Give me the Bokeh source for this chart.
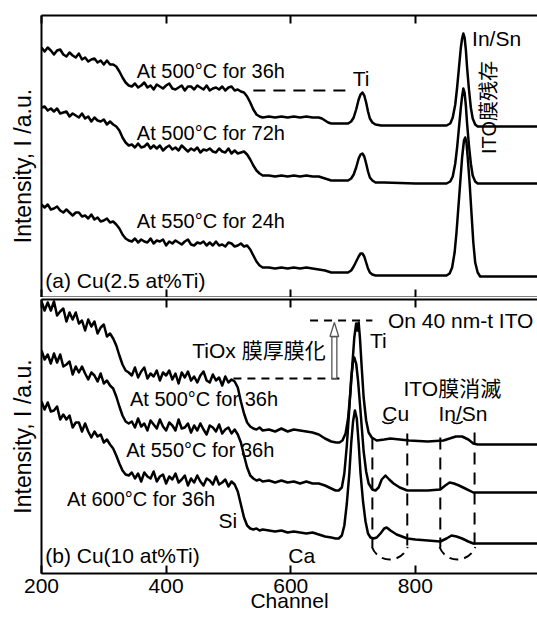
import math
from bokeh.plotting import figure
from bokeh.models import Range1d, LinearAxis, FixedTicker, Label
from bokeh.layouts import column
from bokeh.embed import file_html
from bokeh.resources import INLINE

# ---------------- data ----------------
x_ticks = [200, 400, 600, 800]
channel_grid = list(range(200, 556, 5))   # noisy low-channel part, 5-channel steps

# (a) Cu(2.5 at%Ti)
int_a1_low = [250, 246, 250, 247, 243, 247, 248, 243, 241, 245,
              242, 240, 244, 238, 240, 236, 238, 239, 235, 237,
              233, 237, 233, 233, 231, 226, 220, 215, 212, 211,
              214, 210, 212, 215, 210, 212, 208, 213, 211, 209,
              212, 214, 209, 208, 210, 212, 207, 211, 211, 208,
              212, 210, 208, 212, 207, 209, 210, 208, 211, 207,
              210, 211, 207, 208, 206, 205, 201, 195, 188, 183,
              181, 180]
ch_a1_high = [565, 575, 585, 595, 605, 615, 625, 635, 645, 650, 655, 660, 665, 675, 685, 692, 697,
              701, 705, 709, 712, 715, 718, 721, 724, 727, 731, 736, 745, 780, 820, 850, 856, 860,
              864, 867, 870, 873, 875, 877, 879, 881, 883, 886, 889, 892, 896, 900, 996]
int_a1_high = [181, 180, 181, 180, 181, 180, 181, 180, 180, 179, 177, 175, 174, 174, 174, 174, 176,
               180, 188, 198, 203, 205, 202, 195, 186, 179, 175, 173, 172, 172, 172, 172, 174, 180,
               193, 210, 230, 250, 259, 264, 260, 248, 230, 208, 190, 179, 173, 171, 171]

int_a2_low = [190, 191, 187, 189, 186, 189, 184, 185, 186, 181,
              184, 182, 180, 184, 179, 181, 176, 180, 177, 176,
              178, 173, 176, 173, 171, 167, 160, 155, 152, 153,
              150, 154, 150, 151, 154, 149, 152, 149, 152, 147,
              150, 152, 148, 150, 147, 152, 149, 146, 149, 147,
              150, 145, 148, 147, 149, 146, 145, 149, 146, 145,
              149, 144, 147, 144, 145, 146, 143, 138, 132, 127,
              124, 122]
ch_a2_high = [565, 575, 585, 595, 605, 615, 625, 635, 645, 650, 655, 660, 665, 675, 685, 692, 697,
              701, 705, 709, 712, 715, 718, 721, 724, 727, 731, 736, 750, 800, 850, 856, 860, 864,
              867, 870, 873, 875, 877, 879, 881, 883, 886, 889, 892, 896, 900, 996]
int_a2_high = [122, 121, 122, 121, 122, 121, 122, 121, 121, 120, 119, 118, 117, 117, 117, 117, 119,
               123, 130, 139, 143, 144, 141, 134, 126, 120, 117, 115, 115, 114, 114, 116, 121, 134,
               150, 170, 190, 201, 209, 205, 192, 174, 152, 134, 122, 116, 114, 114]

int_a3_low = [93, 90, 93, 88, 89, 91, 87, 85, 88, 85,
              82, 85, 85, 81, 82, 79, 83, 78, 80, 76,
              77, 79, 75, 76, 73, 69, 63, 59, 57, 56,
              59, 55, 58, 56, 55, 59, 54, 57, 56, 58,
              52, 56, 54, 57, 55, 53, 56, 58, 53, 52,
              55, 54, 56, 52, 55, 52, 56, 52, 53, 51,
              55, 54, 51, 52, 54, 51, 52, 48, 42, 36,
              32, 30]
ch_a3_high = [565, 575, 585, 595, 605, 615, 625, 635, 645, 655, 665, 675, 685, 692, 697, 701, 705,
              709, 712, 715, 718, 721, 724, 727, 731, 736, 750, 800, 850, 855, 859, 863, 866, 869,
              872, 875, 878, 880, 882, 884, 887, 890, 893, 896, 900, 904, 996]
int_a3_high = [30, 29, 30, 29, 30, 29, 30, 29, 28, 27, 25, 25, 25, 25, 27, 31, 36,
               41, 44, 44, 41, 35, 29, 25, 23, 22, 22, 22, 22, 24, 30, 45, 65, 90,
               115, 140, 157, 160, 155, 140, 115, 85, 55, 35, 25, 21, 21]

# (b) Cu(10 at%Ti)
int_b1_low = [272, 263, 271, 263, 272, 258, 262, 265, 252, 261,
              254, 261, 250, 253, 243, 254, 247, 252, 240, 246,
              249, 237, 240, 235, 228, 218, 209, 203, 201, 198,
              206, 196, 202, 206, 195, 200, 197, 203, 193, 201,
              198, 203, 194, 200, 190, 201, 196, 202, 193, 197,
              191, 198, 202, 193, 191, 199, 193, 196, 188, 197,
              191, 194, 192, 186, 172, 160, 151, 147, 145, 144,
              146, 143]
ch_b1_high = [565, 575, 585, 595, 605, 615, 625, 635, 645, 655, 665, 673, 678, 683, 688, 692, 696,
              699, 702, 705, 707, 709, 711, 714, 717, 721, 725, 730, 738, 750, 760, 775, 790, 820,
              845, 855, 865, 875, 885, 893, 900, 996]
int_b1_high = [144, 142, 145, 142, 144, 143, 142, 141, 139, 135, 132, 131, 131, 133, 140, 155, 183,
               210, 236, 250, 243, 251, 236, 205, 176, 153, 141, 136, 133, 134, 135, 134, 133, 132,
               133, 135, 137, 137, 134, 130, 129, 129]

int_b2_low = [223, 214, 219, 210, 220, 211, 219, 207, 209, 212,
              199, 207, 201, 207, 200, 194, 201, 198, 192, 200,
              190, 193, 188, 185, 177, 167, 158, 152, 150, 152,
              146, 155, 147, 150, 143, 153, 149, 145, 154, 147,
              143, 151, 148, 143, 154, 145, 146, 150, 141, 148,
              143, 150, 144, 139, 148, 146, 142, 149, 140, 144,
              146, 140, 144, 139, 131, 118, 106, 98, 95, 93,
              94, 92]
ch_b2_high = [565, 575, 585, 595, 605, 615, 625, 635, 645, 655, 665, 672, 677, 682, 686, 690, 694,
              697, 700, 702, 705, 708, 711, 714, 717, 721, 725, 731, 736, 741, 746, 752, 758, 765,
              775, 787, 800, 820, 840, 848, 855, 862, 870, 880, 893, 900, 996]
int_b2_high = [93, 91, 93, 91, 92, 90, 92, 90, 90, 88, 85, 83, 83, 86, 100, 128, 165,
               195, 212, 216, 210, 193, 170, 146, 122, 102, 90, 84, 83, 86, 94, 98, 94, 90,
               86, 83, 83, 83, 84, 88, 91, 90, 88, 85, 81, 81, 81]

int_b3_low = [172, 164, 171, 162, 163, 167, 154, 159, 154, 158,
              146, 151, 151, 142, 150, 142, 136, 142, 137, 139,
              131, 134, 129, 125, 118, 110, 103, 99, 98, 101,
              95, 100, 92, 101, 97, 95, 102, 92, 97, 99,
              90, 97, 94, 100, 91, 94, 98, 88, 95, 91,
              98, 92, 88, 95, 93, 89, 97, 89, 91, 94,
              87, 92, 89, 82, 69, 56, 48, 45, 44, 45,
              43, 44]
ch_b3_high = [565, 575, 585, 595, 605, 615, 625, 635, 645, 655, 665, 672, 677, 682, 686, 690, 694,
              697, 700, 703, 706, 709, 712, 716, 720, 724, 728, 733, 738, 744, 750, 754, 760, 770,
              787, 800, 820, 840, 850, 858, 866, 875, 885, 893, 900, 996]
int_b3_high = [43, 42, 43, 41, 42, 41, 40, 41, 39, 37, 36, 35, 35, 38, 48, 70, 100,
               130, 152, 163, 155, 130, 100, 72, 52, 40, 36, 35, 36, 40, 45, 46, 43, 39,
               35, 34, 33, 32, 35, 38, 37, 35, 32, 30, 30, 30]

spectra_a = [(channel_grid + ch_a1_high, int_a1_low + int_a1_high),
             (channel_grid + ch_a2_high, int_a2_low + int_a2_high),
             (channel_grid + ch_a3_high, int_a3_low + int_a3_high)]
spectra_b = [(channel_grid + ch_b1_high, int_b1_low + int_b1_high),
             (channel_grid + ch_b2_high, int_b2_low + int_b2_high),
             (channel_grid + ch_b3_high, int_b3_low + int_b3_high)]

x_title = "Channel"
y_title = "Intensity, I /a.u."

# ---------------- styling ----------------
FONT = "Liberation Sans"
CJK_FONT = "Liberation Sans, Noto Sans CJK JP"
X_RANGE = (200, 996)


def make_panel(height, border_top, border_bottom, y_top, labelled, y_label):
    p = figure(width=537, height=height, x_range=Range1d(*X_RANGE), y_range=Range1d(0, y_top),
               output_backend="svg", toolbar_location=None,
               x_axis_location=None, y_axis_location=None,
               min_border_left=41, min_border_right=0,
               min_border_top=border_top, min_border_bottom=border_bottom)
    p.outline_line_color = None
    p.grid.visible = False
    for loc in ("above", "below"):
        ax = LinearAxis(ticker=FixedTicker(ticks=x_ticks, minor_ticks=[]))
        ax.axis_line_width = 2
        ax.axis_line_color = "black"
        ax.major_tick_line_width = 2
        ax.major_tick_line_color = "black"
        ax.major_tick_in = 8
        ax.major_tick_out = 0
        ax.minor_tick_in = 0
        ax.minor_tick_out = 0
        if loc == "below" and labelled:
            ax.major_label_text_font = FONT
            ax.major_label_text_font_size = "21px"
            ax.major_label_text_color = "black"
            ax.major_label_standoff = 5
            ax.axis_label = x_title
            ax.axis_label_text_font = FONT
            ax.axis_label_text_font_size = "21px"
            ax.axis_label_text_font_style = "normal"
            ax.axis_label_text_color = "black"
            ax.axis_label_standoff = -7
        else:
            ax.major_label_text_font_size = "0px"
            ax.major_label_text_color = None
            ax.major_label_standoff = 0
        p.add_layout(ax, loc)
    ay = LinearAxis(ticker=FixedTicker(ticks=[], minor_ticks=[]))
    ay.axis_line_width = 2
    ay.axis_line_color = "black"
    ay.major_tick_in = 0
    ay.major_tick_out = 0
    ay.minor_tick_in = 0
    ay.minor_tick_out = 0
    ay.major_label_text_font_size = "0px"
    ay.major_label_text_color = None
    ay.major_label_standoff = 0
    ay.axis_label = y_label
    ay.axis_label_text_font = FONT
    ay.axis_label_text_font_size = "23px"
    ay.axis_label_text_font_style = "normal"
    ay.axis_label_text_color = "black"
    ay.axis_label_standoff = 6
    p.add_layout(ay, "left")
    return p


def txt(p, x, y, text, size="20px", font=FONT, align="left", angle=0.0):
    p.add_layout(Label(x=x, y=y, text=text, text_font=font, text_font_size=size,
                       text_color="black", text_align=align, text_baseline="middle",
                       angle=angle))


LW = 2.5

# ---------------- panel (a) ----------------
# trailing no-break spaces nudge the centred title slightly downward, as in the reference
pa = make_panel(297, 15, 0, 282, False, y_title + "\u00a0\u00a0\u00a0")
for ch, val in spectra_a:
    pa.line(ch, val, line_width=LW, color="black", line_join="round")
pa.line([540, 696], [207, 207], line_width=2, color="black", line_dash="12 8")
txt(pa, 353, 227, "At 500°C for 36h")
txt(pa, 353, 165, "At 500°C for 72h")
txt(pa, 353, 77, "At 550°C for 24h")
txt(pa, 713, 219, "Ti", "21px", align="center")
txt(pa, 891, 259, "In/Sn", "21px")
txt(pa, 206, 17, "(a) Cu(2.5 at%Ti)", "21px")
txt(pa, 918, 190, "ITO膜残存", "20px", font=CJK_FONT, align="center", angle=math.pi / 2)

# ---------------- panel (b) ----------------
pb = make_panel(321, 2, 45, 274, True, y_title)
for ch, val in spectra_b:
    pb.line(ch, val, line_width=LW, color="black", line_join="round")
pb.line([508, 687], [195, 195], line_width=2, color="black", line_dash="8 6")
pb.line([631, 731], [253, 253], line_width=2, color="black", line_dash="8 6")
pb.multi_line([[731, 731], [787, 787], [840, 840], [895, 895]],
              [[136, 26], [140, 26], [136, 26], [141, 26]],
              line_width=2, color="black", line_dash="12 8")
pb.arc(x=[759, 867.5], y=[33, 33], radius=19, radius_units="screen",
       start_angle=math.radians(200), end_angle=math.radians(340),
       line_width=2, color="black", line_dash="9 6")
pb.arc(x=[756, 867], y=[158, 158], radius=8, radius_units="screen",
       start_angle=math.radians(225), end_angle=math.radians(315),
       line_width=1.5, color="black")
# hollow arrow
pb.quad(left=[666], right=[674], bottom=[195], top=[237],
        fill_color="white", line_color="#555555", line_width=1.3)
pb.patch([663, 677, 670], [237, 237, 251], fill_color="white", line_color="#555555", line_width=1.3)

txt(pb, 756, 253, "On 40 nm-t ITO", "21px")
txt(pb, 727, 233, "Ti", "21px")
txt(pb, 442, 223, "TiOx 膜厚膜化", "21px", font=CJK_FONT)
txt(pb, 781, 185, "ITO膜消滅", "21px", font=CJK_FONT)
txt(pb, 747, 160, "Cu", "21px")
txt(pb, 837, 160, "In/Sn", "21px")
txt(pb, 484, 53, "Si", "21px")
txt(pb, 596, 18, "Ca", "21px")
txt(pb, 342, 175, "At 500°C for 36h")
txt(pb, 336, 124, "At 550°C for 36h")
txt(pb, 241, 75, "At 600°C for 36h")
txt(pb, 206, 18, "(b) Cu(10 at%Ti)", "21px")

layout = column(pa, pb, spacing=0)
open("out.html", "w").write(file_html(layout, INLINE))
